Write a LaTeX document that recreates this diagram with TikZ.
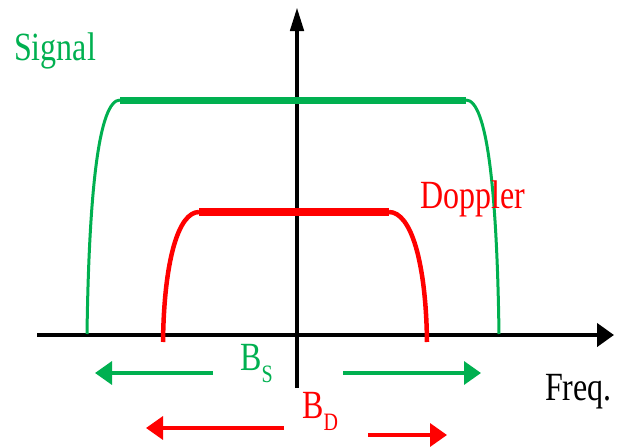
\documentclass[tikz,border=0pt]{standalone}
\usepackage{fontspec}
\setmainfont{Liberation Serif}
\usetikzlibrary{arrows.meta}
\definecolor{sgreen}{RGB}{0,176,80}
\definecolor{dred}{RGB}{255,0,0}
\tikzset{
  lbl/.style={inner sep=0pt, anchor=base west, xscale=0.8, font=\fontsize{40}{44}\selectfont},
  axisline/.style={line width=4.5pt, black},
  bandarrow/.style={line width=3.5pt, -{Triangle[length=17pt,width=23pt]}},
}
\newcommand{\subtxt}[1]{\raisebox{-12pt}{\fontsize{25}{25}\selectfont #1}}
\begin{document}
\begin{tikzpicture}[x=1pt,y=-1pt]
\useasboundingbox (0,0) rectangle (619,447);
% axes
\coordinate (xl) at (37,335);
\coordinate (xr) at (614,335);
\coordinate (yb) at (297,388);
\coordinate (yt) at (297,7);
\draw[axisline,-{Triangle[length=17pt,width=23pt]}] (xl) -- (xr);
\draw[axisline,-{Triangle[length=24pt,width=13pt]}] (yb) -- (yt);
% signal spectrum
\coordinate (g1) at (87,334);
\coordinate (g2) at (120,100);
\coordinate (g3) at (466,100);
\coordinate (g4) at (499,334);
\draw[sgreen, line width=3pt] (g1) .. controls (89,190) and (99,100) .. (g2);
\draw[sgreen, line width=3pt] (g3) .. controls (487,100) and (497,190) .. (g4);
\draw[sgreen, line width=7pt] (g2) -- (g3);
% doppler spectrum
\coordinate (r1) at (163,342);
\coordinate (r2) at (199,212);
\coordinate (r3) at (389,212);
\coordinate (r4) at (427,342);
\draw[dred, line width=4.5pt] (r1) .. controls (164,262) and (178,212) .. (r2);
\draw[dred, line width=4.5pt] (r3) .. controls (411,212) and (426,262) .. (r4);
\draw[dred, line width=8pt] (r2) -- (r3);
% labels
\node[lbl, text=sgreen] (sig) at (14,60) {Signal};
\node[lbl, text=dred] (dop) at (420,208) {Doppler};
\node[lbl, text=black] (freq) at (545,400) {Freq.};
\node[lbl, text=sgreen] (bs) at (240,370) {B\subtxt{S}};
\node[lbl, text=dred] (bd) at (302,418) {B\subtxt{D}};
% bandwidth arrows
\coordinate (gla) at (213,373);
\coordinate (glb) at (95,373);
\coordinate (gra) at (343,373);
\coordinate (grb) at (481,373);
\coordinate (rla) at (284,428);
\coordinate (rlb) at (146,428);
\coordinate (rra) at (368,435);
\coordinate (rrb) at (447,435);
\draw[bandarrow, sgreen] (gla) -- (glb);
\draw[bandarrow, sgreen] (gra) -- (grb);
\draw[bandarrow, dred] (rla) -- (rlb);
\draw[bandarrow, dred] (rra) -- (rrb);
\end{tikzpicture}
\end{document}
